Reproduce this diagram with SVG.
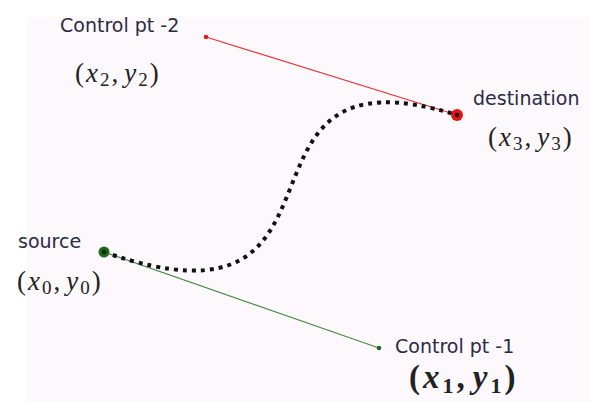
<svg xmlns="http://www.w3.org/2000/svg" width="590" height="402" viewBox="0 0 590 402">
<style>
.lbl{font-family:"DejaVu Sans","Liberation Sans",sans-serif;font-size:19px;fill:#2b2b45}
.math{font-family:"Liberation Serif","DejaVu Serif",serif;font-size:27px;fill:#222;letter-spacing:2px}
.math .v{font-style:italic}
.math .s{font-size:19px}
</style>
<rect x="0" y="0" width="590" height="402" fill="#ffffff"/>
<rect x="27" y="17" width="563" height="385" fill="#fcf8fc"/>
<g id="connectors">
<line x1="206" y1="37" x2="457" y2="115" stroke="#e03535" stroke-width="1.2"/>
<line x1="104" y1="252" x2="379" y2="348" stroke="#4a8a4a" stroke-width="1.2"/>
<path d="M104,252 C379,348 206,37 457,115" fill="none" stroke="#111" stroke-width="4" stroke-dasharray="4 5"/>
</g>
<g id="source">
<circle cx="104" cy="252" r="5.5" fill="#1f6a1f"/>
<circle cx="104" cy="252" r="2.5" fill="#0a300a"/>
<text class="lbl" x="18" y="248">source</text>
<text class="math" x="17" y="290">(<tspan class="v">x</tspan><tspan class="s" dy="4">0</tspan><tspan dy="-4">,</tspan><tspan class="v" dx="4">y</tspan><tspan class="s" dy="4">0</tspan><tspan dy="-4">)</tspan></text>
</g>
<g id="control1">
<circle cx="379" cy="348" r="2.3" fill="#1f6a1f"/>
<text class="lbl" x="395" y="353">Control pt -1</text>
<text class="math" x="409" y="388" style="font-size:33px;font-weight:bold;letter-spacing:3px">(<tspan class="v">x</tspan><tspan class="s" dy="5" style="font-size:22px">1</tspan><tspan dy="-5">,</tspan><tspan class="v" dx="5">y</tspan><tspan class="s" dy="5" style="font-size:22px">1</tspan><tspan dy="-5">)</tspan></text>
</g>
<g id="control2">
<circle cx="206" cy="37" r="2.3" fill="#e02020"/>
<text class="lbl" x="60" y="32">Control pt -2</text>
<text class="math" x="75" y="82">(<tspan class="v">x</tspan><tspan class="s" dy="4">2</tspan><tspan dy="-4">,</tspan><tspan class="v" dx="4">y</tspan><tspan class="s" dy="4">2</tspan><tspan dy="-4">)</tspan></text>
</g>
<g id="destination">
<circle cx="457" cy="115" r="6" fill="#e01515"/>
<circle cx="457" cy="115" r="2.3" fill="#300000"/>
<text class="lbl" x="473" y="105">destination</text>
<text class="math" x="488" y="146">(<tspan class="v">x</tspan><tspan class="s" dy="4">3</tspan><tspan dy="-4">,</tspan><tspan class="v" dx="4">y</tspan><tspan class="s" dy="4">3</tspan><tspan dy="-4">)</tspan></text>
</g>
</svg>
